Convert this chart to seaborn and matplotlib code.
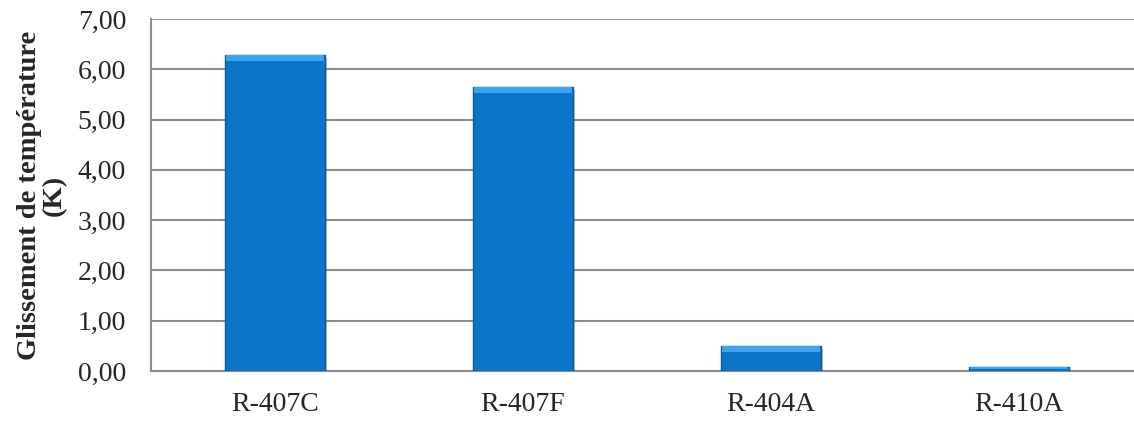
import matplotlib
matplotlib.use('Agg')
import matplotlib.pyplot as plt
import matplotlib.patheffects as pe
from matplotlib.patches import Rectangle
import seaborn as sns
import pandas as pd

# Valeurs
fluides = ["R-407C", "R-407F", "R-404A", "R-410A"]
glissement = [6.28, 5.65, 0.50, 0.07]
yticks = [0, 1, 2, 3, 4, 5, 6, 7]

df = pd.DataFrame({'fluide': fluides, 'glissement': glissement})

sns.set_style('white')
plt.rcParams['font.family'] = ['Liberation Serif', 'DejaVu Serif']

fig = plt.figure(figsize=(11.34, 4.21), dpi=100)
ax = fig.add_axes([151 / 1134, 50 / 421, 992 / 1134, 352 / 421])

sns.barplot(data=df, x='fluide', y='glissement', color='#0A74C8',
            width=0.4, edgecolor='#0A5C9E', linewidth=1.0, saturation=1,
            ax=ax, zorder=3)

# ombre + liseré clair en haut (effet biseau)
for bar in list(ax.patches):
    bar.set_path_effects([pe.SimplePatchShadow(offset=(2, -2), alpha=0.35, shadow_rgbFace='#555555'),
                          pe.Normal()])
    h = bar.get_height()
    band = min(0.12, h * 0.35)
    ax.add_patch(Rectangle((bar.get_x() + 0.004, h - band), bar.get_width() - 0.008, band,
                           facecolor='#3FA2EC', edgecolor='none', zorder=4))

ax.set_ylim(0, 7)
ax.set_xlim(-0.5, 3.5)
ax.set_yticks(yticks)
ax.set_yticklabels([f"{v:.2f}".replace('.', ',') for v in yticks])
ax.yaxis.grid(True, color='#8C8C8C', linewidth=1.5, zorder=0)
ax.set_axisbelow(True)

for side in ['top', 'right']:
    ax.spines[side].set_visible(False)
for side in ['left', 'bottom']:
    ax.spines[side].set_color('#8C8C8C')
    ax.spines[side].set_linewidth(1.5)

ax.tick_params(axis='y', length=0, pad=18, labelsize=20)
ax.tick_params(axis='x', length=0, pad=15, labelsize=20)
ax.set_xlabel('')
ax.set_ylabel('Glissement de température\n(K)', fontsize=20.5, fontweight='bold',
              linespacing=0.95, labelpad=8)

fig.savefig('out.png', dpi=100, facecolor='white')
